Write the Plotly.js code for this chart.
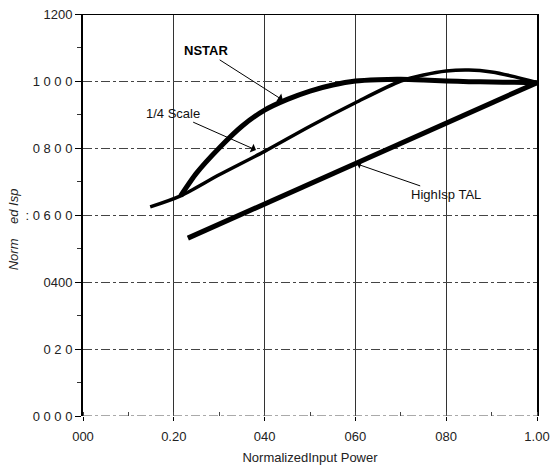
<!DOCTYPE html>
<html><head><meta charset="utf-8">
<script src="https://cdn.plot.ly/plotly-3.0.1.min.js"></script>
<style>html,body{margin:0;padding:0;background:#fff}#chart{width:552px;height:470px}</style>
</head><body><div id="chart"></div>
<script>
const nstarX = [0.215,0.25,0.3,0.35,0.4,0.45,0.5,0.55,0.6,0.65,0.7,0.75,0.8,0.85,0.9,0.95,1.0];
const nstarY = [0.657,0.725,0.80,0.865,0.913,0.945,0.97,0.988,1.0,1.004,1.005,1.003,1.0,0.998,0.997,0.996,0.995];
const quarterX = [0.148,0.215,0.3,0.4,0.5,0.6,0.7,0.75,0.8,0.85,0.9,0.95,1.0];
const quarterY = [0.624,0.657,0.72,0.79,0.865,0.935,1.0,1.018,1.03,1.033,1.027,1.013,0.995];
const talX = [0.231,1.0];
const talY = [0.531,0.995];
const xTickVals = [0,0.2,0.4,0.6,0.8,1.0];
const xTickText = ["000","0.20","040","060","080","1.00"];
const yTickVals = [0,0.2,0.4,0.6,0.8,1.0,1.2];
const yTickText = ["0 0 0 0","0 2 0","0400",": 0 6 0 0","0 8 0 0","1 0 0 0","1200"];

const font = {family:"Liberation Sans, Arial, sans-serif", size:13, color:"#222"};
const traces = [
  {x:nstarX, y:nstarY, mode:"lines", line:{color:"#000", width:5, shape:"spline", smoothing:0.7}, name:"NSTAR"},
  {x:quarterX, y:quarterY, mode:"lines", line:{color:"#000", width:3.5, shape:"spline", smoothing:0.8}, name:"1/4 Scale"},
  {x:talX, y:talY, mode:"lines", line:{color:"#000", width:5}, name:"High Isp TAL"}
];
const layout = {
  width:552, height:470, showlegend:false,
  paper_bgcolor:"#fff", plot_bgcolor:"#fff",
  margin:{l:83, r:15, t:14, b:54},
  font:font,
  xaxis:{range:[0,1.0], tickvals:xTickVals, ticktext:xTickText, showgrid:true, gridcolor:"#333", gridwidth:1,
    zeroline:false, showline:false, ticks:"outside", ticklen:4, tickcolor:"#000", ticklabelstandoff:4,
    minor:{dtick:0.1, tick0:0, ticks:"inside", ticklen:4, tickcolor:"#444", showgrid:false},
    title:{text:"NormalizedInput Power", font:{family:"Liberation Sans, Arial, sans-serif", size:13, color:"#222"}, standoff:10},
    tickfont:{size:13, color:"#222"}},
  yaxis:{range:[0,1.2], tickvals:yTickVals, ticktext:yTickText, showgrid:true, gridcolor:"#444", gridwidth:1, griddash:"dashdot",
    zeroline:false, showline:true, mirror:true, linecolor:"#000", linewidth:2,
    ticks:"outside", ticklen:6, tickcolor:"#000",
    minor:{dtick:0.1, tick0:0, ticks:"outside", ticklen:4, tickcolor:"#333", showgrid:false},
    title:{text:"<i>Norm\u00a0\u00a0\u00a0\u00a0ed Isp\u00a0\u00a0\u00a0\u00a0\u00a0\u00a0\u00a0\u00a0</i>", font:{family:"Liberation Sans, Arial, sans-serif", size:13, color:"#222"}, standoff:4},
    tickfont:{size:13, color:"#222"}},
  shapes:[
    {type:"line", xref:"paper", yref:"y", x0:0, x1:1, y0:1.2, y1:1.2, line:{color:"#000", width:2}},
    {type:"line", xref:"paper", yref:"y", x0:0, x1:1, y0:0, y1:0, line:{color:"#555", width:1, dash:"dashdot"}}
  ],
  annotations:[
    {x:0.44, y:0.943, xref:"x", yref:"y", ax:0.27, ay:1.09, axref:"x", ayref:"y", text:"<b>NSTAR</b>",
      showarrow:true, arrowhead:1, arrowsize:1.6, arrowwidth:1, arrowcolor:"#000", font:{size:13, color:"#000"}},
    {x:0.381, y:0.794, xref:"x", yref:"y", ax:0.198, ay:0.904, axref:"x", ayref:"y", text:"1/4 Scale",
      showarrow:true, arrowhead:1, arrowsize:1.6, arrowwidth:1, arrowcolor:"#000", font:{size:13, color:"#111"}},
    {x:0.604, y:0.752, xref:"x", yref:"y", ax:0.80, ay:0.66, axref:"x", ayref:"y", text:"HighIsp TAL",
      showarrow:true, arrowhead:1, arrowsize:1.2, arrowwidth:1, arrowcolor:"#000", font:{size:13, color:"#111"}}
  ]
};
Plotly.newPlot("chart", traces, layout, {displayModeBar:false, staticPlot:true});
</script></body></html>
